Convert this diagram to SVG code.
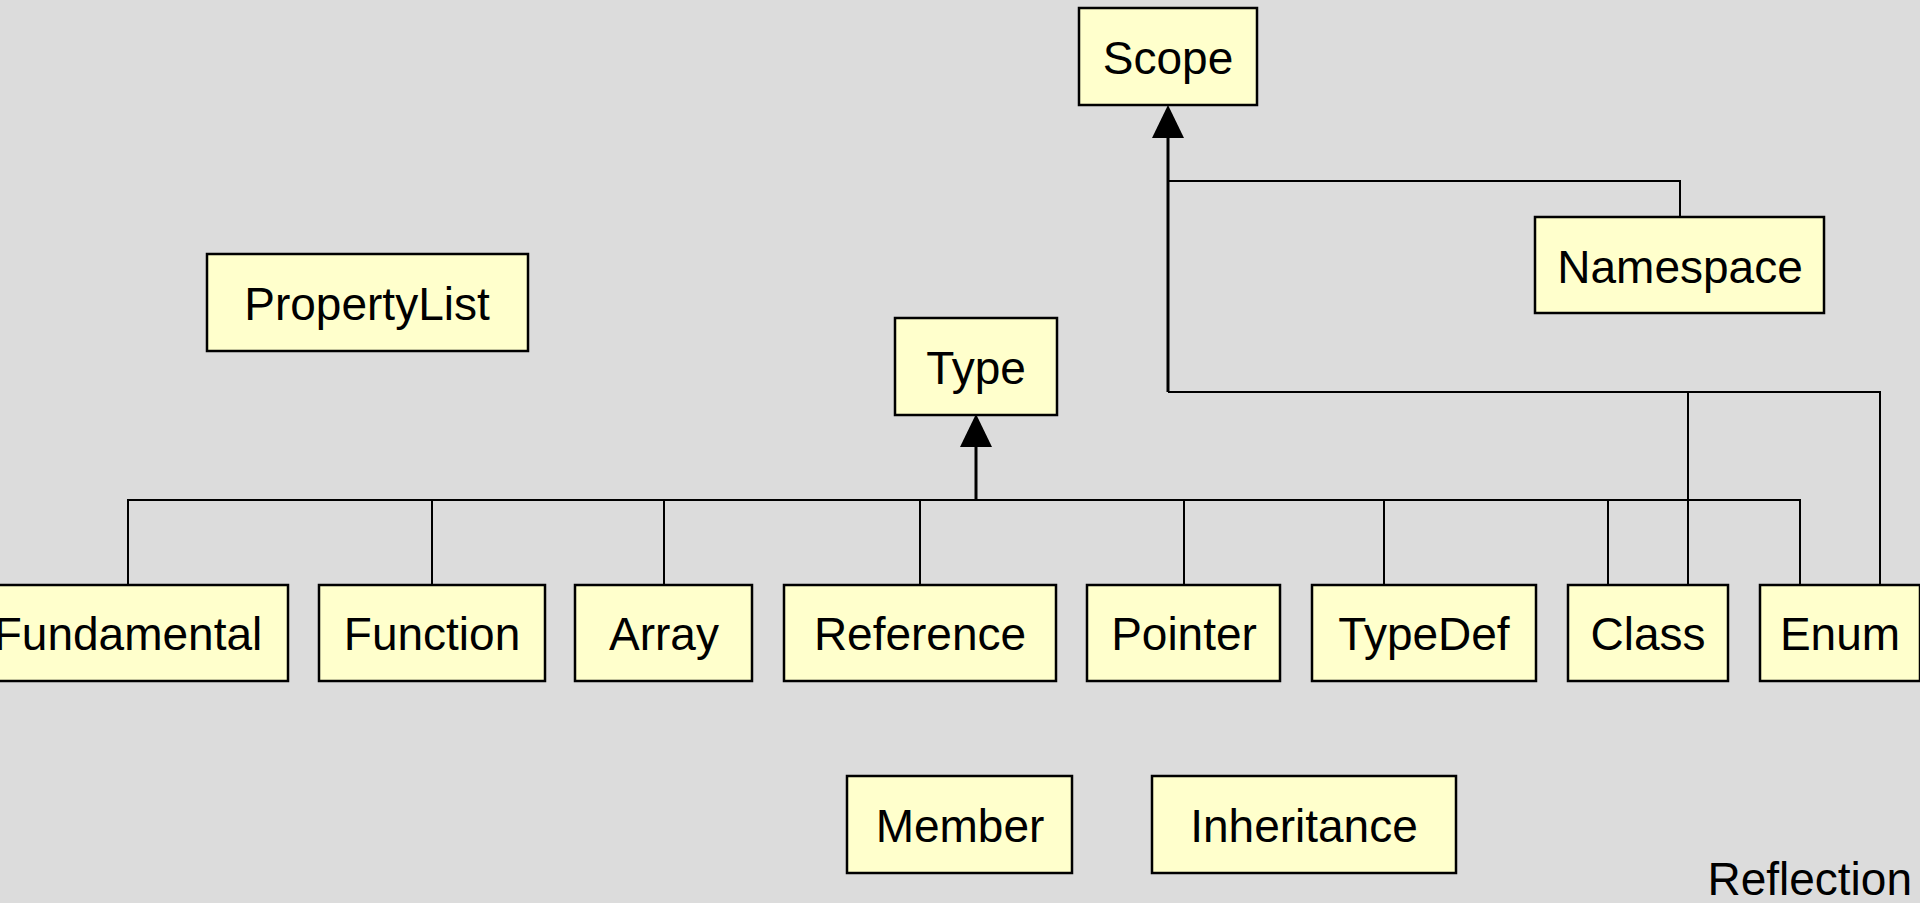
<svg xmlns="http://www.w3.org/2000/svg" width="1920" height="903" viewBox="0 0 1920 903">
<style>
.bg{fill:#dcdcdc}
.node rect{fill:#ffffcc;stroke:#000;stroke-width:2.5}
.node text,.title{font-family:"Liberation Sans",Arial,sans-serif;font-size:46px;fill:#000;text-anchor:middle}
.title{text-anchor:end}
.conn{fill:none;stroke:#000;stroke-width:2}
.stem{fill:none;stroke:#000;stroke-width:3}
</style>
<defs>
<marker id="tri" markerUnits="userSpaceOnUse" markerWidth="34" markerHeight="34" refX="0" refY="16" orient="auto" overflow="visible">
<path d="M0,0 L33,16 L0,32 z" fill="#000"/>
</marker>
</defs>
<rect class="bg" x="0" y="0" width="1920" height="903"/>
<g id="connectors">
<path class="conn" d="M128,585 V500 H1800 V585 M432,585 V500 M664,585 V500 M920,585 V500 M1184,585 V500 M1384,585 V500 M1608,585 V500"/>
<path class="stem" d="M976,500 V447" marker-end="url(#tri)"/>
<path class="conn" d="M1680,217 V181 H1168 M1688,585 V392 M1880,585 V392 H1168"/>
<path class="stem" d="M1168,392 V138" marker-end="url(#tri)"/>
</g>
<g id="Scope" class="node"><rect x="1079" y="8" width="178" height="97"/><text x="1168" y="74">Scope</text></g>
<g id="Namespace" class="node"><rect x="1535" y="217" width="289" height="96"/><text x="1680" y="283">Namespace</text></g>
<g id="PropertyList" class="node"><rect x="207" y="254" width="321" height="97"/><text x="367" y="320">PropertyList</text></g>
<g id="Type" class="node"><rect x="895" y="318" width="162" height="97"/><text x="976" y="384">Type</text></g>
<g id="Fundamental" class="node"><rect x="-32" y="585" width="320" height="96"/><text x="128" y="650">Fundamental</text></g>
<g id="Function" class="node"><rect x="319" y="585" width="226" height="96"/><text x="432" y="650">Function</text></g>
<g id="Array" class="node"><rect x="575" y="585" width="177" height="96"/><text x="664" y="650">Array</text></g>
<g id="Reference" class="node"><rect x="784" y="585" width="272" height="96"/><text x="920" y="650">Reference</text></g>
<g id="Pointer" class="node"><rect x="1087" y="585" width="193" height="96"/><text x="1184" y="650">Pointer</text></g>
<g id="TypeDef" class="node"><rect x="1312" y="585" width="224" height="96"/><text x="1424" y="650">TypeDef</text></g>
<g id="Class" class="node"><rect x="1568" y="585" width="160" height="96"/><text x="1648" y="650">Class</text></g>
<g id="Enum" class="node"><rect x="1760" y="585" width="160" height="96"/><text x="1840" y="650">Enum</text></g>
<g id="Member" class="node"><rect x="847" y="776" width="225" height="97"/><text x="960" y="842">Member</text></g>
<g id="Inheritance" class="node"><rect x="1152" y="776" width="304" height="97"/><text x="1304" y="842">Inheritance</text></g>
<text class="title" x="1912" y="895">Reflection</text>
</svg>
